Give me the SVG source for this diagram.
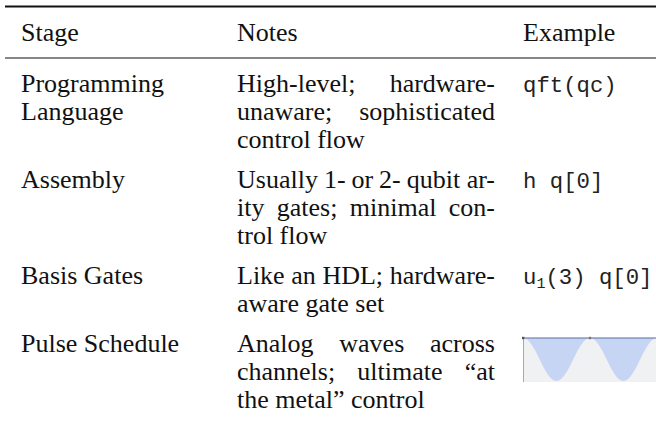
<svg xmlns="http://www.w3.org/2000/svg" width="656" height="426" viewBox="0 0 656 426">
<style>
.t{font-family:"Liberation Serif","Times New Roman",serif;font-size:26px;fill:#111}
.e{text-anchor:end}
.m{font-family:"Liberation Mono","DejaVu Sans Mono",monospace;font-size:22.3px;fill:#222}
.rule{stroke:#111}
</style>
<rect width="656" height="426" fill="#fff"/>
<g id="rules">
<line class="rule" x1="5" y1="6.5" x2="656" y2="6.5" stroke-width="1.8"/>
<line class="rule" x1="5" y1="58" x2="656" y2="58" stroke-width="1.1"/>
</g>
<g id="header">
<text class="t" x="21" y="41">Stage</text>
<text class="t" x="237" y="41">Notes</text>
<text class="t" x="523" y="41">Example</text>
</g>
<g id="row-programming">
<text class="t" x="21" y="92">Programming</text>
<text class="t" x="21" y="120">Language</text>
<text class="t" x="237" y="92">High-level;</text>
<text class="t e" x="495" y="92">hardware-</text>
<text class="t" x="237" y="120">unaware;</text>
<text class="t e" x="495" y="120">sophisticated</text>
<text class="t" x="237" y="148">control flow</text>
<text class="m" x="523" y="92">qft(qc)</text>
</g>
<g id="row-assembly">
<text class="t" x="21" y="188">Assembly</text>
<text class="t" x="237" y="188">Usually</text>
<text class="t" x="323.9" y="188">1-</text>
<text class="t" x="351.5" y="188">or</text>
<text class="t" x="379.1" y="188">2-</text>
<text class="t" x="406.7" y="188">qubit</text>
<text class="t e" x="495" y="188">ar-</text>
<text class="t" x="237" y="216">ity</text>
<text class="t" x="276.8" y="216">gates;</text>
<text class="t" x="349.8" y="216">minimal</text>
<text class="t e" x="495" y="216">con-</text>
<text class="t" x="237" y="244">trol flow</text>
<text class="m" x="523" y="188">h q[0]</text>
</g>
<g id="row-basis">
<text class="t" x="21" y="284">Basis Gates</text>
<text class="t" x="237" y="284">Like</text>
<text class="t" x="291.3" y="284">an</text>
<text class="t" x="322.4" y="284">HDL;</text>
<text class="t e" x="495" y="284">hardware-</text>
<text class="t" x="237" y="312">aware gate set</text>
<text class="m" x="523" y="284">u<tspan font-size="15" dy="4">1</tspan><tspan dy="-4">(3) q[0]</tspan></text>
</g>
<g id="row-pulse">
<text class="t" x="21" y="352">Pulse Schedule</text>
<text class="t" x="237" y="352">Analog</text>
<text class="t" x="339.3" y="352">waves</text>
<text class="t e" x="495" y="352">across</text>
<text class="t" x="237" y="380">channels;</text>
<text class="t" x="357.3" y="380">ultimate</text>
<text class="t e" x="495" y="380">“at</text>
<text class="t" x="237" y="408">the metal” control</text>
<g id="pulse">
<rect x="523" y="338" width="133" height="44" fill="#f0f1f3"/>
<path d="M523,338 C535.4,338 544.1,381 556.5,381 C568.9,381 577.6,338 590,338 C602.4,338 611.1,381 623.5,381 C635.9,381 644.6,338 657,338 Z" fill="#c6d5f4"/>
<line x1="523" y1="338" x2="656" y2="338" stroke="#5f6f9c" stroke-width="1.1"/>
<line x1="523.5" y1="338" x2="523.5" y2="382" stroke="#a8a8ac" stroke-width="1"/>
<rect x="522" y="336.8" width="2.4" height="2.4" fill="#555"/>
<rect x="588.8" y="336.8" width="2.4" height="2.4" fill="#777"/>
</g>
</g>
</svg>
